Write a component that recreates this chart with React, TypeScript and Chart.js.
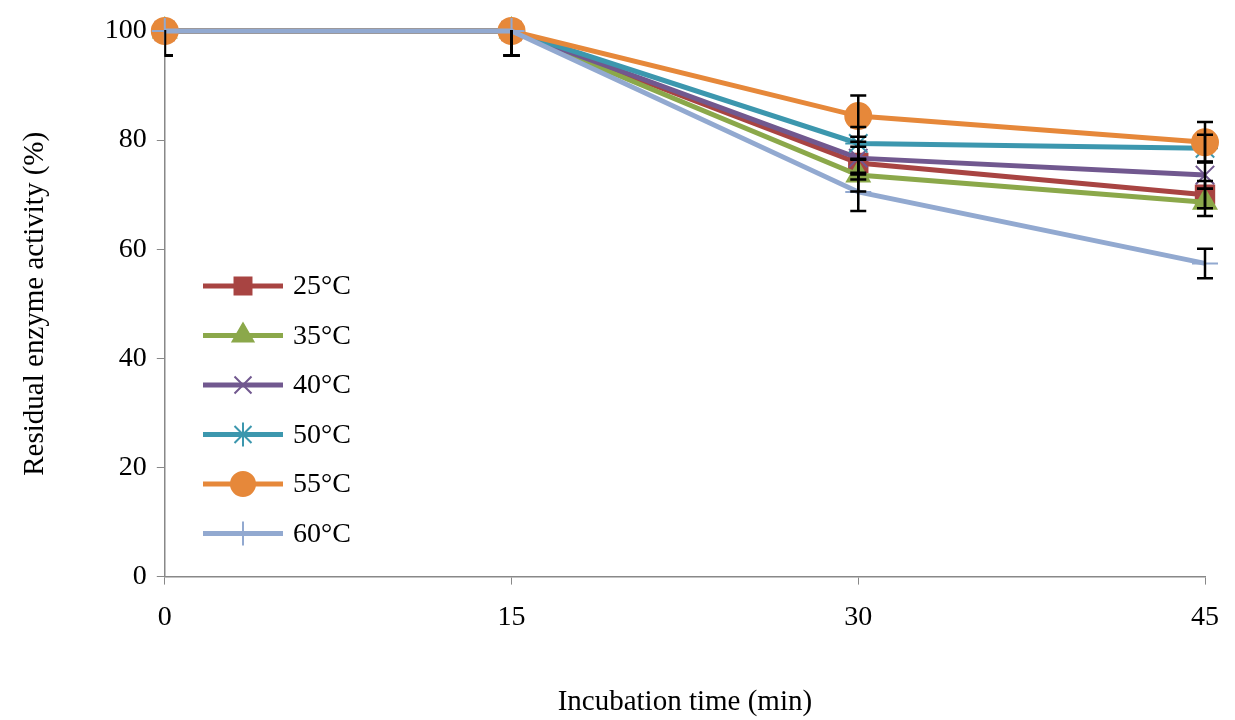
import { useEffect, useRef } from 'react';
import Chart from 'chart.js/auto';
import { drawPoint } from 'chart.js/helpers';

const times = [0, 15, 30, 45];
const labels = ['25°C', '35°C', '40°C', '50°C', '55°C', '60°C'];
const colors = ['#A84442', '#8BA84A', '#71588F', '#3C97AE', '#E6883A', '#92A9D0'];
const markers = ['rect', 'triangle', 'crossRot', 'star', 'circle', 'cross'];
const v25 = [100, 100, 75.8, 70];
const v35 = [100, 100, 73.6, 68.6];
const v40 = [100, 100, 76.7, 73.6];
const v50 = [100, 100, 79.4, 78.5];
const v55 = [100, 100, 84.4, 79.6];
const v60 = [100, 100, 70.5, 57.4];
const err25 = [4.5, 4.5, 3, 2.5];
const err35 = [4.5, 4.5, 3, 2.5];
const err40 = [4.5, 4.5, 3, 2.5];
const err50 = [4.5, 4.5, 3, 2.5];
const err55 = [4.5, 4.5, 3.8, 3.7];
const err60 = [4.5, 4.5, 3.5, 2.7];
const values = [v25, v35, v40, v50, v55, v60];
const errors = [err25, err35, err40, err50, err55, err60];

const font = 'Liberation Serif';

const errorBars = {
  id: 'errorBars',
  afterDatasetsDraw(chart: any) {
    const { ctx, chartArea: a, scales } = chart;
    ctx.save();
    ctx.beginPath();
    ctx.rect(a.left, a.top - 1, a.right - a.left + 20, a.bottom - a.top);
    ctx.clip();
    ctx.strokeStyle = '#000';
    ctx.lineWidth = 2.5;
    values.forEach((vals, i) => {
      vals.forEach((v, j) => {
        const x = scales.x.getPixelForValue(times[j]);
        const y1 = scales.y.getPixelForValue(v + errors[i][j]);
        const y2 = scales.y.getPixelForValue(v - errors[i][j]);
        ctx.beginPath();
        ctx.moveTo(x, y1); ctx.lineTo(x, y2);
        ctx.moveTo(x - 8, y1); ctx.lineTo(x + 8, y1);
        ctx.moveTo(x - 8, y2); ctx.lineTo(x + 8, y2);
        ctx.stroke();
      });
    });
    ctx.restore();
  },
};

const legendBox = {
  id: 'legendBox',
  afterDraw(chart: any) {
    const { ctx } = chart;
    ctx.save();
    ctx.font = `28px "${font}"`;
    ctx.textBaseline = 'middle';
    chart.data.datasets.forEach((ds: any, i: number) => {
      const y = 286 + i * 49.5;
      ctx.strokeStyle = ds.borderColor;
      ctx.lineWidth = 5;
      ctx.beginPath(); ctx.moveTo(203, y); ctx.lineTo(283, y); ctx.stroke();
      ctx.fillStyle = ds.backgroundColor;
      ctx.strokeStyle = ds.borderColor;
      ctx.lineWidth = 2;
      drawPoint(ctx, { pointStyle: ds.pointStyle, radius: 12, borderWidth: 2, rotation: 0 } as any, 243, y);
      ctx.fillStyle = '#000';
      ctx.fillText(ds.label, 293, y + 1);
    });
    ctx.restore();
  },
};

export default function App() {
  const canvasRef = useRef<HTMLCanvasElement | null>(null);

  useEffect(() => {
    if (!canvasRef.current) return;
    const chart = new Chart(canvasRef.current, {
      type: 'line',
      data: {
        datasets: values.map((vals, i) => ({
          label: labels[i],
          data: vals.map((v, j) => ({ x: times[j], y: v })),
          borderColor: colors[i],
          backgroundColor: colors[i],
          borderWidth: 5,
          pointStyle: markers[i] as any,
          pointRadius: 13,
          pointBorderWidth: 2,
          order: 5 - i,
          clip: false as any,
        })),
      },
      options: {
        responsive: true,
        maintainAspectRatio: false,
        animation: false,
        layout: { padding: { top: 31, right: -8, left: 14, bottom: 0 } },
        plugins: { legend: { display: false }, tooltip: { enabled: false } },
        scales: {
          x: {
            type: 'linear', min: 0, max: 45,
            ticks: { stepSize: 15, color: '#000', font: { family: font, size: 28 }, padding: 16 },
            grid: { drawOnChartArea: false, color: '#888', tickLength: 8 },
            border: { color: '#888', width: 1.5 },
            title: { display: true, text: 'Incubation time (min)', color: '#000', font: { family: font, size: 29 }, padding: { top: 35, bottom: 0 } },
          },
          y: {
            min: 0, max: 100,
            ticks: { stepSize: 20, color: '#000', font: { family: font, size: 28 }, padding: 10 },
            grid: { drawOnChartArea: false, color: '#888', tickLength: 8 },
            border: { color: '#888', width: 1.5 },
            title: { display: true, text: 'Residual enzyme activity (%)', color: '#000', font: { family: font, size: 29 }, padding: { bottom: 42 } },
          },
        },
      },
      plugins: [errorBars, legendBox],
    });
    return () => chart.destroy();
  }, []);

  return (
    <div style={{ position: 'fixed', inset: 0, background: '#fff' }}>
      <canvas ref={canvasRef} />
    </div>
  );
}
